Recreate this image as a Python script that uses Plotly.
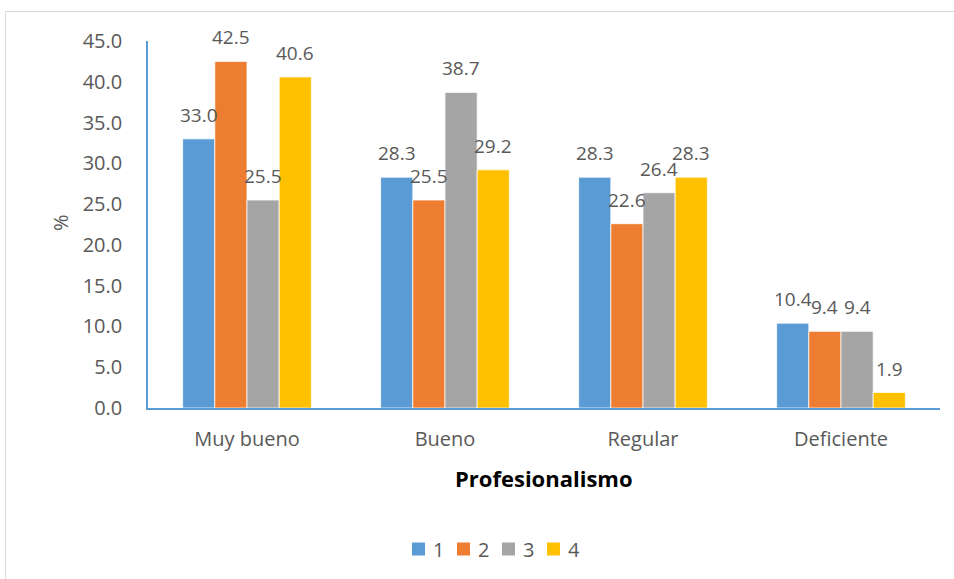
import plotly.graph_objects as go

categories = ["Muy bueno", "Bueno", "Regular", "Deficiente"]
series_names = ["1", "2", "3", "4"]
s1 = [33.0, 28.3, 28.3, 10.4]
s2 = [42.5, 25.5, 22.6, 9.4]
s3 = [25.5, 38.7, 26.4, 9.4]
s4 = [40.6, 29.2, 28.3, 1.9]
series = [s1, s2, s3, s4]
colors = ["#5B9BD5", "#ED7D31", "#A5A5A5", "#FFC000"]
yticks = [0, 5, 10, 15, 20, 25, 30, 35, 40, 45]

W, H = 954, 579
ML, MR, MT, MB = 148, 14, 41, 171
PW, PH = W - ML - MR, H - MT - MB
FONT = "Open Sans"
GRAY = "#595959"
bargap = 0.35

fig = go.Figure()
for name, vals, col in zip(series_names, series, colors):
    fig.add_trace(go.Bar(
        name=name, x=categories, y=vals,
        marker=dict(color=col, line=dict(color="white", width=0.75)),
        hoverinfo="x+y", showlegend=False,
    ))

ann = []
n = len(series)
bw = (1 - bargap) / n
for j, vals in enumerate(series):
    for i, v in enumerate(vals):
        ann.append(dict(
            x=i - (1 - bargap) / 2 + (j + 0.5) * bw, y=v, xref="x", yref="y",
            text=f"{v:.1f}", showarrow=False, xanchor="center", yanchor="middle", yshift=24,
            font=dict(family=FONT, size=19, color=GRAY),
        ))

def px2x(px):
    return (px - ML) / PW

def py2y(py):
    return (H - MB - py) / PH

ann.append(dict(x=px2x(544), y=py2y(478), xref="paper", yref="paper",
                xanchor="center", yanchor="middle",
                text="<b>Profesionalismo</b>", showarrow=False,
                font=dict(family=FONT, size=22, color="black")))
ann.append(dict(x=px2x(60), y=py2y(223), xref="paper", yref="paper",
                xanchor="center", yanchor="middle",
                text="%", showarrow=False, textangle=-90,
                font=dict(family=FONT, size=20, color=GRAY)))

shapes = [
    dict(type="line", xref="paper", yref="paper", x0=px2x(5.5), x1=px2x(W + 5),
         y0=py2y(11.5), y1=py2y(11.5), line=dict(color="#D9D9D9", width=1)),
    dict(type="line", xref="paper", yref="paper", x0=px2x(5.5), x1=px2x(5.5),
         y0=py2y(11.5), y1=py2y(H + 5), line=dict(color="#D9D9D9", width=1)),
]

# legend built from series names and colours
LEG_X0, LEG_STEP, LEG_Y, SQ = 412, 45, 549, 13
for j, (name, col) in enumerate(zip(series_names, colors)):
    x0 = LEG_X0 + j * LEG_STEP
    shapes.append(dict(type="rect", xref="paper", yref="paper",
                       x0=px2x(x0), x1=px2x(x0 + SQ),
                       y0=py2y(LEG_Y + SQ / 2), y1=py2y(LEG_Y - SQ / 2),
                       fillcolor=col, line=dict(width=0)))
    ann.append(dict(x=px2x(x0 + SQ + 6), y=py2y(LEG_Y), xref="paper", yref="paper",
                    xanchor="left", yanchor="middle", text=name, showarrow=False,
                    font=dict(family=FONT, size=20, color=GRAY)))

fig.update_layout(
    width=W, height=H,
    margin=dict(l=ML, r=MR, t=MT, b=MB),
    paper_bgcolor="white", plot_bgcolor="white",
    barmode="group", bargap=bargap, bargroupgap=0,
    font=dict(family=FONT, size=19, color=GRAY),
    annotations=ann, shapes=shapes, showlegend=False,
    xaxis=dict(showline=True, linecolor="#5B9BD5", linewidth=1.5, showgrid=False,
               ticks="", ticklabelstandoff=12, tickfont=dict(family=FONT, size=20, color=GRAY)),
    yaxis=dict(range=[0, 45], tickvals=yticks, ticktext=[f"{t:.1f}" for t in yticks],
               showline=True, linecolor="#5B9BD5", linewidth=1.5, showgrid=False,
               zeroline=False, ticks="", ticklabelstandoff=20,
               tickfont=dict(family=FONT, size=20, color=GRAY)),
)

fig.write_html("out.html")
